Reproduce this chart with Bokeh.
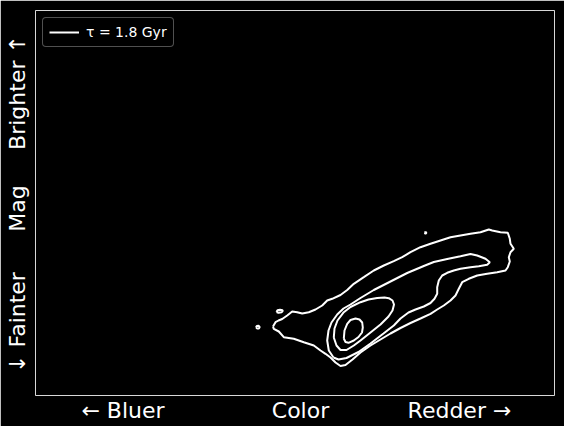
from bokeh.plotting import figure
from bokeh.models import Range1d, FixedTicker, Legend, LegendItem
from bokeh.embed import file_html
from bokeh.resources import INLINE

# ---- data (color index / magnitude readings, arbitrary units; mag grows downward) ----
outer_color = [272.5, 275, 278, 281.7, 286.7, 291.7, 296.7, 301.7, 308.3, 315, 321.7, 326.7, 331.7, 340,
               346.7, 353.3, 363.3, 373.3, 383.3, 393.3, 401.7, 410, 420, 430, 440, 450, 460, 470, 480,
               488.3, 491.7, 500, 507.3, 509.3, 510, 513.3, 510, 508.3, 509.3, 507.3, 505, 496.7, 486.7,
               476.7, 468.3, 461.7, 458.3, 455, 450, 443.3, 436.7, 430, 420, 410, 400, 390, 380, 370, 360,
               352, 345, 340, 335, 330, 325, 320, 313.3, 303.3, 293.3, 283.3, 278.3, 273.3, 272.5]
outer_mag = [326, 321.7, 320, 318.5, 315, 311, 311.7, 313, 311.7, 309, 305, 300, 298.3, 294.5,
             289.5, 283.3, 276.7, 270, 265, 260.7, 256.7, 251.7, 246.7, 243.3, 240, 236.7, 235, 233.3, 231.7,
             229, 230, 231.7, 232.3, 238.3, 243.3, 248.3, 251.7, 256.7, 261, 266.7, 270, 271.7, 273.3,
             275, 278.3, 281.7, 288.3, 295, 300, 305, 309, 313.3, 318, 322.5, 327.5, 333, 339, 345, 352,
             359, 364.5, 365.5, 362, 357, 353.3, 350, 345, 341.7, 338.3, 336.7, 331, 328.3, 326]

mid_color = [333, 328.3, 326.7, 328, 331, 336.7, 343, 350, 360, 373.3, 390, 406.7, 423.3, 433.3, 446.7,
             460, 470, 476.7, 485, 489.3, 486.7, 478.3, 470, 460, 453.3, 446.7, 441.7, 438.3, 436.7, 436.7,
             434, 430, 423.3, 415, 408, 400, 393.3, 383, 370, 358, 346, 338, 333]
mid_mag = [357, 350, 340, 330, 322, 314, 308, 304, 297.5, 289.5, 281, 272.5, 265.5, 261.5, 258.5,
           255.7, 253.5, 255, 258.3, 261.7, 264.3, 265.7, 266.7, 268.3, 270, 272.3, 275, 280, 286.7, 293.3,
           298.3, 302.5, 306, 309, 312, 318, 325, 333, 343, 351.5, 357.5, 359, 357]

inner_color = [333.3, 334, 337, 343.3, 350, 360, 368, 376.7, 384, 388.3, 392, 393.5, 392, 388, 380, 370,
               360, 353.3, 346, 340, 336, 333.3]
inner_mag = [337, 328, 320, 311.7, 306.5, 301.7, 299, 297.5, 297, 297.7, 300, 304, 310, 316, 324, 332,
             340, 345, 349.5, 349.5, 345, 337]

core_color = [343.3, 344, 346.7, 350, 355, 359, 361.7, 362.3, 361.5, 358, 353.3, 348, 345, 343.3]
core_mag = [338, 330, 323.3, 319.5, 318, 319, 322, 327, 332, 336.5, 340, 342.3, 341.5, 338]

island1_color = [276, 277, 279.5, 282, 282.2, 281, 278, 276]
island1_mag = [311.5, 309.7, 309.2, 309.7, 310.5, 311.7, 312.3, 311.5]
island2_color = [255.5, 256.3, 258, 259.2, 258.4, 256.5, 255.5]
island2_mag = [326.7, 325.5, 325.3, 326.5, 327.9, 328, 326.7]
island3_color = [424, 425, 426, 425, 424]
island3_mag = [232.3, 231.4, 232.3, 233.2, 232.3]

x_tick_pos = [122.5, 300, 459]
x_tick_labels = ["\u2190 Bluer", "Color", "Redder \u2192"]
y_tick_pos = [322, 208, 92]
y_tick_labels = ["\u2193 Fainter", "Mag", "Brighter \u2191"]
legend_label = "\u03c4 = 1.8 Gyr"

# ---- figure ----
p = figure(width=564, height=426, output_backend="svg", toolbar_location=None,
           x_range=Range1d(35, 554), y_range=Range1d(395, 10),
           min_border_left=35, min_border_right=10, min_border_top=10, min_border_bottom=31,
           background_fill_color="black", border_fill_color="black",
           outline_line_color="#d8d8d8", outline_line_width=1)
p.grid.visible = False

xs = [outer_color, mid_color, inner_color, core_color, island1_color, island2_color, island3_color]
ys = [outer_mag, mid_mag, inner_mag, core_mag, island1_mag, island2_mag, island3_mag]
r = p.multi_line(xs=xs, ys=ys, line_color="white", line_width=2)

for ax, pos, labels in ((p.xaxis[0], x_tick_pos, x_tick_labels), (p.yaxis[0], y_tick_pos, y_tick_labels)):
    ax.ticker = FixedTicker(ticks=pos)
    ax.major_label_overrides = {v: s for v, s in zip(pos, labels)}
    ax.major_tick_out = 0
    ax.major_tick_in = 0
    ax.minor_tick_out = 0
    ax.minor_tick_in = 0
    ax.axis_line_color = None
    ax.major_label_text_color = "white"
    ax.major_label_text_font = "DejaVu Sans"
    ax.major_label_text_font_size = "22px"

p.xaxis[0].major_label_standoff = 2
p.yaxis[0].major_label_standoff = 6
p.yaxis[0].major_label_orientation = "vertical"

legend = Legend(items=[LegendItem(label=legend_label, renderers=[r])],
                location="top_left", margin=7, padding=6, spacing=0,
                glyph_width=30, glyph_height=16, label_height=16, label_standoff=7,
                label_text_font="DejaVu Sans", label_text_font_size="14px", label_text_color="white",
                background_fill_color="black", background_fill_alpha=0.8,
                border_line_color="#a0a0a0", border_line_width=1.5)
if "border_radius" in Legend.properties():
    legend.border_radius = 4
p.add_layout(legend)

open("out.html", "w").write(file_html(p, INLINE))
